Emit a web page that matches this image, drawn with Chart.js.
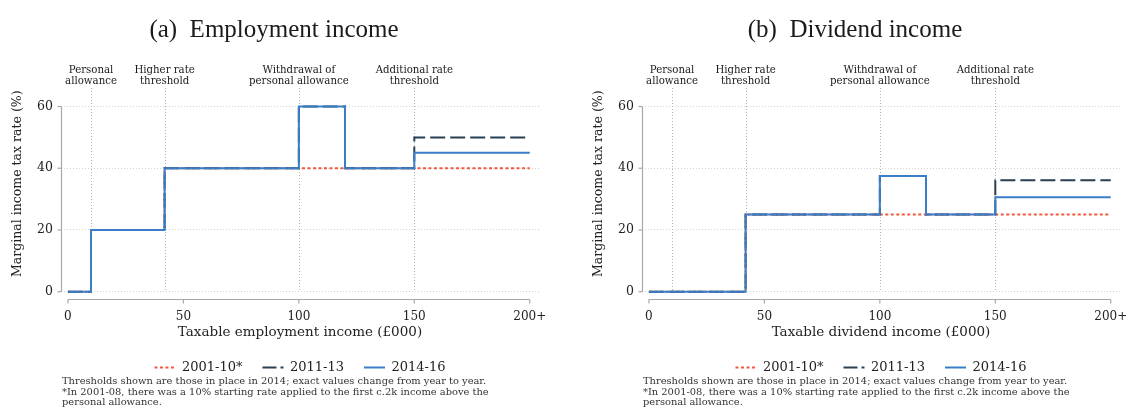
<!DOCTYPE html>
<html><head><meta charset="utf-8">
<script src="https://cdn.jsdelivr.net/npm/chart.js@4.4.0/dist/chart.umd.min.js"></script>
<style>
html,body{margin:0;padding:0;background:#fff;}
body{width:1128px;height:411px;overflow:hidden;position:relative;font-family:"DejaVu Serif",serif;}
.panel{position:absolute;top:0;width:564px;height:411px;}
.ptitle{position:absolute;left:0;width:548px;top:15px;text-align:center;font-family:"Liberation Serif",serif;font-size:25px;color:#1a1a1a;white-space:pre;}
.note{position:absolute;left:62px;top:376px;font-size:9.9px;line-height:10.5px;color:#333;white-space:nowrap;}
canvas{position:absolute;left:0;top:0;}
</style></head>
<body>
<div class="panel" style="left:0px">
  <canvas id="c1" width="564" height="411" style="width:564px;height:411px"></canvas>
  <div class="ptitle">(a)  Employment income</div>
  <div class="note">Thresholds shown are those in place in 2014; exact values change from year to year.<br>*In 2001-08, there was a 10% starting rate applied to the first c.2k income above the<br>personal allowance.</div>
</div>
<div class="panel" style="left:581px">
  <canvas id="c2" width="564" height="411" style="width:564px;height:411px"></canvas>
  <div class="ptitle">(b)  Dividend income</div>
  <div class="note">Thresholds shown are those in place in 2014; exact values change from year to year.<br>*In 2001-08, there was a 10% starting rate applied to the first c.2k income above the<br>personal allowance.</div>
</div>
<script>
// ---- data ----
const breakpoints = [0, 10, 41.865, 100, 120, 150, 200]; // taxable income (£000) where each rate starts
const seriesNames = ["2001-10*", "2011-13", "2014-16"];
const empRate2001 = [0, 20, 40, 40, 40, 40, 40];
const empRate2011 = [0, 20, 40, 60, 40, 50, 50];
const empRate2014 = [0, 20, 40, 60, 40, 45, 45];
const divRate2001 = [0, 0, 25, 25, 25, 25, 25];
const divRate2011 = [0, 0, 25, 37.5, 25, 36.1, 36.1];
const divRate2014 = [0, 0, 25, 37.5, 25, 30.6, 30.6];
const xTickValues = [0, 50, 100, 150, 200];
const xTickLabels = ["0", "50", "100", "150", "200+"];
const yTickValues = [0, 20, 40, 60];
const thresholdX = [10, 41.865, 100, 150];
const thresholdLabels = [["Personal", "allowance"], ["Higher rate", "threshold"], ["Withdrawal of", "personal allowance"], ["Additional rate", "threshold"]];
const yTitle = "Marginal income tax rate (%)";
const xTitleEmp = "Taxable employment income (£000)";
const xTitleDiv = "Taxable dividend income (£000)";

const SERIF = "'DejaVu Serif', serif";
const TXT = "#222";
const AXIS = "#a8a8a8";

const annotPlugin = {
  id: 'annot',
  beforeDatasetsDraw(chart) {
    const {ctx, chartArea: ca, scales: {x, y}} = chart;
    ctx.save();
    ctx.strokeStyle = '#b4b4b4'; ctx.lineWidth = 1; ctx.setLineDash([1, 2]);
    thresholdX.forEach(v => {
      const px = Math.round(x.getPixelForValue(v)) + 0.5;
      ctx.beginPath(); ctx.moveTo(px, ca.top); ctx.lineTo(px, y.getPixelForValue(0)); ctx.stroke();
    });
    ctx.restore();
  },
  afterDraw(chart) {
    const {ctx, chartArea: ca, scales: {x, y}} = chart;
    ctx.save();
    ctx.fillStyle = "#1a1a1a"; ctx.font = "10.2px " + SERIF; ctx.textAlign = 'center'; ctx.textBaseline = 'middle';
    thresholdX.forEach((v, i) => {
      const px = x.getPixelForValue(v);
      ctx.fillText(thresholdLabels[i][0], px, ca.top - 18);
      ctx.fillText(thresholdLabels[i][1], px, ca.top - 6.5);
    });
    // y-axis title
    ctx.save();
    ctx.fillStyle = TXT; ctx.font = "12.5px " + SERIF;
    ctx.translate(18, (ca.top + ca.bottom) / 2 - 10);
    ctx.rotate(-Math.PI / 2);
    ctx.fillText(yTitle, 0, 0);
    ctx.restore();
    // axis lines
    ctx.strokeStyle = AXIS; ctx.lineWidth = 1.2; ctx.setLineDash([]);
    const lx = Math.round(ca.left) + 0.5;
    ctx.beginPath(); ctx.moveTo(lx, y.getPixelForValue(0)); ctx.lineTo(lx, y.getPixelForValue(60)); ctx.stroke();
    yTickValues.forEach(v => { const py = y.getPixelForValue(v); ctx.beginPath(); ctx.moveTo(lx - 4, py); ctx.lineTo(lx, py); ctx.stroke(); });
    const by = Math.round(ca.bottom) + 0.5;
    ctx.beginPath(); ctx.moveTo(x.getPixelForValue(0), by); ctx.lineTo(x.getPixelForValue(200), by); ctx.stroke();
    xTickValues.forEach(v => { const px = x.getPixelForValue(v); ctx.beginPath(); ctx.moveTo(px, by); ctx.lineTo(px, by + 4); ctx.stroke(); });
    ctx.restore();
  }
};

function pts(rates) { return breakpoints.map((b, i) => ({x: b, y: rates[i]})); }

function makeChart(id, r1, r2, r3, xTitle) {
  return new Chart(document.getElementById(id), {
    type: 'line',
    data: {
      datasets: [
        {label: seriesNames[0], data: pts(r1), borderColor: '#ef5a3c', backgroundColor: '#ef5a3c', borderDash: [3, 2.5], borderWidth: 2, stepped: true, pointRadius: 0, order: 2},
        {label: seriesNames[1], data: pts(r2), borderColor: '#2a3f52', backgroundColor: '#2a3f52', borderDash: [15, 5], borderWidth: 2, stepped: true, pointRadius: 0, order: 1},
        {label: seriesNames[2], data: pts(r3), borderColor: '#3a7ec8', backgroundColor: '#3a7ec8', borderWidth: 2, stepped: true, pointRadius: 0, order: 0}
      ]
    },
    options: {
      responsive: false, animation: false,
      layout: {padding: {top: 88, right: 25, left: 0, bottom: 27}},
      plugins: {
        legend: {
          position: 'bottom', fullSize: false,
          labels: {
            usePointStyle: true, pointStyle: 'line', pointStyleWidth: 21, boxHeight: 13,
            padding: 20, color: TXT, font: {family: SERIF, size: 13},
            generateLabels: chart => chart.data.datasets.map((ds, i) => ({
              text: ds.label, strokeStyle: ds.borderColor, fillStyle: ds.borderColor,
              lineWidth: 2, lineDash: i === 1 ? [14, 4] : (ds.borderDash || []), pointStyle: 'line',
              datasetIndex: i, hidden: false, fontColor: TXT
            }))
          }
        },
        tooltip: {enabled: false}
      },
      scales: {
        x: {
          type: 'linear', min: -3, max: 204,
          afterBuildTicks: s => { s.ticks = xTickValues.map(v => ({value: v})); },
          afterFit: s => { s.height -= 9; },
          ticks: {callback: v => xTickLabels[xTickValues.indexOf(v)], color: TXT, font: {family: SERIF, size: 12}, padding: 10, maxRotation: 0, autoSkip: false},
          grid: {display: false, drawTicks: false},
          border: {display: false},
          title: {display: true, text: xTitle, color: TXT, font: {family: SERIF, size: 13.5}, padding: {top: 0, bottom: 0}}
        },
        y: {
          min: -2.5, max: 66,
          afterBuildTicks: s => { s.ticks = yTickValues.map(v => ({value: v})); },
          afterFit: s => { s.width = 61; },
          ticks: {color: TXT, font: {family: SERIF, size: 12.5}, padding: 8},
          grid: {color: '#d2d2d2', lineWidth: 1, drawTicks: false},
          border: {display: false, dash: [1, 2]},
          title: {display: false}
        }
      }
    },
    plugins: [annotPlugin]
  });
}

makeChart('c1', empRate2001, empRate2011, empRate2014, xTitleEmp);
makeChart('c2', divRate2001, divRate2011, divRate2014, xTitleDiv);
</script>
</body></html>
